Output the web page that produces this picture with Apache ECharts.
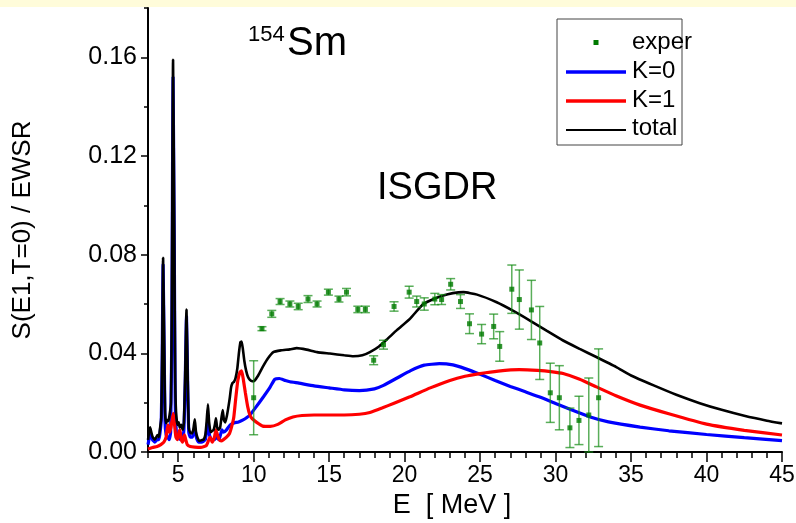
<!DOCTYPE html>
<html>
<head>
<meta charset="utf-8">
<script src="https://cdn.jsdelivr.net/npm/echarts@6/dist/echarts.min.js"></script>
<style>
  html, body { margin: 0; padding: 0; background: #ffffff; }
  #chart { width: 796px; height: 523px; }
</style>
</head>
<body>
<div id="chart"></div>
<script>
// Strength function S(E1,T=0)/EWSR for 154Sm: K=0 and K=1 branches, their total,
// and measured points with error bars.

// Curves as [E (MeV), S/EWSR] pairs
const totalCurve = [
  [3.0,0.0049],[3.07,0.008],[3.14,0.010],[3.22,0.008],[3.3,0.0062],[3.45,0.005],[3.55,0.006],[3.63,0.0069],
  [3.72,0.006],[3.8,0.0097],[3.88,0.014],[3.94,0.04],[4.0,0.0787],[4.07,0.045],[4.13,0.016],[4.2,0.0117],
  [4.28,0.013],[4.35,0.0125],[4.43,0.015],[4.52,0.02],[4.58,0.06],[4.66,0.159],[4.74,0.09],[4.8,0.03],
  [4.86,0.016],[4.95,0.011],[5.03,0.012],[5.1,0.010],[5.2,0.011],[5.3,0.009],[5.38,0.012],[5.46,0.03],
  [5.55,0.0577],[5.63,0.03],[5.7,0.01],[5.8,0.0078],[5.9,0.0075],[6.0,0.009],[6.1,0.0133],[6.18,0.008],
  [6.28,0.0058],[6.4,0.0045],[6.55,0.0048],[6.68,0.005],[6.8,0.007],[6.88,0.012],[6.97,0.0193],[7.05,0.012],
  [7.15,0.008],[7.25,0.0085],[7.35,0.009],[7.43,0.011],[7.5,0.0137],[7.58,0.010],[7.68,0.009],[7.78,0.010],
  [7.87,0.014],[7.95,0.017],[8.03,0.013],[8.12,0.012],[8.22,0.0145],[8.32,0.018],[8.42,0.022],[8.5,0.026],
  [8.6,0.028],[8.7,0.0285],[8.8,0.030],[8.92,0.034],[9.02,0.040],[9.12,0.0445],[9.2,0.0448],[9.28,0.042],
  [9.38,0.037],[9.5,0.033],[9.62,0.0305],[9.75,0.0292],[9.9,0.0287],[10.05,0.0289],[10.3,0.031],[10.65,0.035],
  [10.95,0.038],[11.3,0.0405],[11.8,0.0412],[12.4,0.0416],[12.85,0.0421],[13.5,0.0415],[14.2,0.0405],[15.05,0.0399],
  [16.0,0.0392],[16.6,0.0388],[17.2,0.0392],[17.7,0.0405],[18.3,0.0428],[18.8,0.0455],[19.5,0.0495],[20.35,0.054],
  [21.2,0.0598],[21.7,0.0614],[22.5,0.0633],[23.2,0.0644],[23.9,0.0648],[24.8,0.0638],[26.1,0.0607],[27.2,0.0572],
  [28.3,0.0533],[29.4,0.0492],[30.5,0.0452],[31.6,0.0418],[32.7,0.0385],[34.0,0.0345],[35.0,0.031],[36.5,0.027],
  [38.0,0.0232],[39.55,0.0198],[41.0,0.0171],[42.5,0.0147],[44.0,0.0127],[45.0,0.0116]
];

const k0Curve = [
  [3.0,0.003],[3.1,0.006],[3.2,0.007],[3.3,0.005],[3.45,0.004],[3.6,0.005],[3.72,0.005],[3.8,0.008],
  [3.88,0.013],[3.94,0.038],[4.0,0.076],[4.07,0.042],[4.13,0.012],[4.2,0.007],[4.3,0.006],[4.4,0.005],
  [4.5,0.008],[4.58,0.05],[4.66,0.152],[4.74,0.085],[4.8,0.022],[4.88,0.008],[5.0,0.006],[5.15,0.005],
  [5.3,0.006],[5.38,0.009],[5.46,0.027],[5.55,0.055],[5.63,0.027],[5.7,0.008],[5.8,0.006],[5.95,0.006],
  [6.1,0.010],[6.2,0.006],[6.35,0.004],[6.55,0.004],[6.8,0.005],[6.97,0.013],[7.07,0.007],[7.2,0.005],
  [7.4,0.005],[7.55,0.006],[7.7,0.005],[7.9,0.009],[8.0,0.008],[8.2,0.009],[8.45,0.011],[8.7,0.0118],
  [9.0,0.0122],[9.3,0.013],[9.55,0.014],[9.75,0.015],[10.1,0.0178],[10.65,0.0224],[11.1,0.0264],[11.4,0.0295],
  [11.7,0.0298],[12.1,0.029],[12.4,0.0285],[13.0,0.0279],[14.0,0.0268],[15.0,0.026],[16.0,0.0252],[17.0,0.0249],
  [18.0,0.0256],[18.6,0.027],[19.5,0.030],[20.4,0.033],[21.3,0.0352],[22.3,0.0358],[23.2,0.0353],[24.0,0.0338],
  [25.0,0.0315],[26.0,0.029],[27.0,0.0266],[28.0,0.0244],[29.0,0.0222],[30.0,0.0197],[31.0,0.0172],[32.3,0.0142],
  [33.5,0.0122],[35.6,0.0101],[37.5,0.0086],[40.0,0.0071],[42.5,0.0058],[45.0,0.0046]
];

const k1Curve = [
  [3.0,0.0012],[3.3,0.0018],[3.6,0.0022],[3.85,0.003],[4.05,0.004],[4.2,0.006],[4.32,0.011],[4.42,0.008],
  [4.52,0.010],[4.6,0.013],[4.68,0.0157],[4.76,0.011],[4.85,0.006],[4.95,0.005],[5.05,0.008],[5.12,0.009],
  [5.2,0.005],[5.3,0.004],[5.42,0.007],[5.5,0.005],[5.6,0.003],[5.8,0.0022],[6.1,0.002],[6.5,0.0019],
  [6.85,0.0025],[7.0,0.0045],[7.12,0.006],[7.25,0.004],[7.4,0.006],[7.5,0.009],[7.6,0.007],[7.72,0.005],
  [7.85,0.0045],[8.0,0.005],[8.2,0.006],[8.4,0.0075],[8.55,0.0105],[8.68,0.014],[8.8,0.021],[8.95,0.029],
  [9.1,0.0325],[9.2,0.0329],[9.3,0.030],[9.45,0.024],[9.6,0.0185],[9.75,0.015],[9.9,0.0135],[10.2,0.012],
  [10.6,0.0105],[11.1,0.0104],[11.6,0.0112],[12.1,0.013],[12.6,0.0142],[13.2,0.0148],[14.0,0.015],[15.0,0.015],
  [16.0,0.015],[17.0,0.0153],[17.7,0.016],[18.5,0.0178],[19.3,0.0198],[20.35,0.0224],[21.7,0.026],[23.0,0.029],
  [24.0,0.0307],[25.0,0.0318],[26.2,0.0328],[27.6,0.0334],[28.8,0.0331],[29.8,0.0325],[30.5,0.0318],[31.6,0.0295],
  [32.7,0.0264],[34.0,0.0228],[35.6,0.019],[37.5,0.0155],[40.0,0.0113],[42.5,0.0088],[45.0,0.0069]
];

// Measured points: energy, value, error
const experE = [10.0,10.55,11.2,11.75,12.4,12.95,13.6,14.2,14.95,15.65,16.15,16.9,17.4,17.95,18.6,19.3,
  20.3,20.8,21.3,22.0,22.45,23.05,23.7,24.3,25.1,25.9,26.3,27.1,27.6,28.4,28.95,29.65,30.25,30.95,31.55,32.2,32.85];
const experV = [0.022,0.050,0.056,0.061,0.060,0.059,0.062,0.060,0.0648,0.062,0.0648,0.0578,0.0578,0.0372,0.0435,0.059,
  0.0648,0.061,0.060,0.062,0.0618,0.068,0.061,0.052,0.0478,0.0509,0.0428,0.066,0.0618,0.0576,0.0442,0.024,0.022,0.0098,0.0128,0.015,0.022];
const experErr = [0.015,0.0008,0.0014,0.0012,0.0012,0.0013,0.0014,0.0012,0.0012,0.0012,0.0015,0.0013,0.0013,0.0018,0.0018,0.0019,
  0.0024,0.0022,0.0025,0.0023,0.0020,0.0023,0.0028,0.004,0.0039,0.005,0.006,0.0098,0.012,0.012,0.0148,0.012,0.013,0.008,0.0098,0.015,0.0198];

// Axis ticks
const xMajorTicks = [5,10,15,20,25,30,35,40,45];
const yMajorTicks = [0,0.04,0.08,0.12,0.16];

const experPoints = experE.map((e, i) => [e, experV[i]]);
const experBars = experE.map((e, i) => [e, experV[i], experErr[i]]);

const FONT = 'Liberation Sans, Arial, sans-serif';
const chart = echarts.init(document.getElementById('chart'), null, { renderer: 'canvas' });

const axisLine = { show: true, lineStyle: { color: '#000', width: 2 } };

chart.setOption({
  animation: false,
  backgroundColor: '#ffffff',
  grid: { left: 148, right: 14, top: 8, bottom: 71, containLabel: false, outerBoundsMode: 'none' },
  xAxis: [
    {
      type: 'value', min: 3, max: 45, position: 'bottom',
      axisLine: axisLine,
      axisTick: { show: true, inside: false, length: 10, customValues: xMajorTicks, lineStyle: { color: '#000', width: 1.5 } },
      axisLabel: { show: true, customValues: xMajorTicks, fontFamily: FONT, fontSize: 23, color: '#000', margin: 12 },
      splitLine: { show: false },
      name: 'E  [ MeV ]', nameLocation: 'middle', nameGap: 35,
      nameTextStyle: { fontFamily: FONT, fontSize: 27, color: '#000', padding: [0, 26, 0, 0] }
    },
    {
      type: 'value', min: 3, max: 45, interval: 1, position: 'bottom', offset: 0,
      axisLine: { show: false },
      axisTick: { show: true, inside: false, length: 6, lineStyle: { color: '#000', width: 1.5 } },
      axisLabel: { show: false },
      splitLine: { show: false }
    }
  ],
  yAxis: [
    {
      type: 'value', min: 0, max: 0.18, position: 'left',
      axisLine: axisLine,
      axisTick: { show: true, inside: false, length: 7, customValues: yMajorTicks, lineStyle: { color: '#000', width: 1.5 } },
      axisLabel: { show: true, customValues: yMajorTicks, formatter: v => v.toFixed(2), fontFamily: FONT, fontSize: 25, color: '#000', margin: 11 },
      splitLine: { show: false },
      name: 'S(E1,T=0) / EWSR', nameLocation: 'middle', nameGap: 112, nameRotate: 90,
      nameTextStyle: { fontFamily: FONT, fontSize: 26, color: '#000' }
    },
    {
      type: 'value', min: 0, max: 0.18, interval: 0.02, position: 'left', offset: 0,
      axisLine: { show: false },
      axisTick: { show: true, inside: false, length: 4, lineStyle: { color: '#000', width: 1.5 } },
      axisLabel: { show: false },
      splitLine: { show: false }
    }
  ],
  series: [
    {
      name: 'K=0', type: 'line', data: k0Curve, showSymbol: false, symbol: 'none',
      lineStyle: { color: '#0000ff', width: 3.2 }, z: 2, smooth: 0.15
    },
    {
      name: 'K=1', type: 'line', data: k1Curve, showSymbol: false, symbol: 'none',
      lineStyle: { color: '#ff0000', width: 3.2 }, z: 3, smooth: 0.15
    },
    {
      name: 'total', type: 'line', data: totalCurve, showSymbol: false, symbol: 'none',
      lineStyle: { color: '#000000', width: 2.6 }, z: 4, smooth: 0.15
    },
    {
      name: 'errors', type: 'custom', data: experBars, z: 5,
      renderItem: function (params, api) {
        const x = api.value(0), y = api.value(1), e = api.value(2);
        const top = api.coord([x, y + e]);
        const bot = api.coord([x, Math.max(0, y - e)]);
        const hw = 4.5;
        const st = { stroke: 'rgba(20,140,20,0.7)', lineWidth: 1.5 };
        return {
          type: 'group',
          children: [
            { type: 'line', shape: { x1: top[0], y1: top[1], x2: bot[0], y2: bot[1] }, style: st },
            { type: 'line', shape: { x1: top[0] - hw, y1: top[1], x2: top[0] + hw, y2: top[1] }, style: st },
            { type: 'line', shape: { x1: bot[0] - hw, y1: bot[1], x2: bot[0] + hw, y2: bot[1] }, style: st }
          ]
        };
      }
    },
    {
      name: 'exper', type: 'scatter', data: experPoints, symbol: 'rect', symbolSize: 5,
      itemStyle: { color: '#007a00' }, z: 6
    }
  ],
  graphic: [
    { type: 'rect', left: 0, top: 0, shape: { width: 796, height: 7 }, style: { fill: '#fffcda' }, silent: true },
    // isotope label
    { type: 'text', left: 248, top: 24, style: { text: '154', font: '22px ' + FONT, fill: '#000' } },
    { type: 'text', left: 287, top: 24, style: { text: 'Sm', font: '40px ' + FONT, fill: '#000' } },
    { type: 'text', left: 377, top: 170, style: { text: 'ISGDR', font: '38px ' + FONT, fill: '#000' } },
    // legend box
    { type: 'rect', shape: { x: 557, y: 19, width: 125, height: 126 }, style: { fill: 'none', stroke: '#444', lineWidth: 1 }, z: 10 },
    { type: 'rect', shape: { x: 593.5, y: 40, width: 5, height: 5 }, style: { fill: '#007a00' }, z: 10 },
    { type: 'line', shape: { x1: 566, y1: 72, x2: 626, y2: 72 }, style: { stroke: '#0000ff', lineWidth: 3.5 }, z: 10 },
    { type: 'line', shape: { x1: 566, y1: 101, x2: 626, y2: 101 }, style: { stroke: '#ff0000', lineWidth: 3.5 }, z: 10 },
    { type: 'line', shape: { x1: 566, y1: 130, x2: 626, y2: 130 }, style: { stroke: '#000000', lineWidth: 2 }, z: 10 },
    { type: 'text', left: 632, top: 30, style: { text: 'exper', font: '24px ' + FONT, fill: '#000' }, z: 10 },
    { type: 'text', left: 632, top: 59, style: { text: 'K=0', font: '24px ' + FONT, fill: '#000' }, z: 10 },
    { type: 'text', left: 632, top: 88, style: { text: 'K=1', font: '24px ' + FONT, fill: '#000' }, z: 10 },
    { type: 'text', left: 632, top: 116, style: { text: 'total', font: '24px ' + FONT, fill: '#000' }, z: 10 }
  ]
});
</script>
</body>
</html>
